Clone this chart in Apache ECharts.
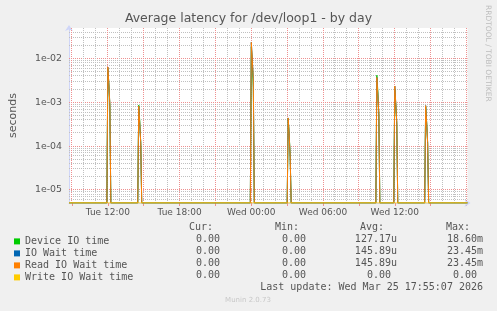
<!DOCTYPE html>
<html><head><meta charset="utf-8">
<script src="https://cdn.jsdelivr.net/npm/echarts@6/dist/echarts.min.js"></script>
<style>html,body{margin:0;padding:0;background:#f0f0f0;}#c{width:497px;height:311px;}</style>
</head><body><div id="c"></div>
<script>
// ---- data ----
const titleText = 'Average latency for /dev/loop1 - by day';
const seriesNames = ['Device IO time', 'IO Wait time', 'Read IO Wait time', 'Write IO Wait time'];
const seriesColors = ['#00cc00', '#0066b3', '#ff8000', '#ffcc00'];
const timeStart = '2026-03-24T08:45:00';
const timeEnd = '2026-03-25T18:05:00';
const sampleStepMin = 5;
// times of the latency spikes (peak sample)
const spikeTimes = ['2026-03-24T12:00:00', '2026-03-24T14:35:00', '2026-03-25T00:00:00', '2026-03-25T03:05:00',
                    '2026-03-25T10:30:00', '2026-03-25T12:00:00', '2026-03-25T14:35:00'];
// Device IO time (seconds): peak sample, next sample, following sample
const devicePeak = [5.9e-3, 8.6e-4, 1.86e-2, 4.3e-4, 4.15e-3, 2.0e-3, 8.0e-4];
const deviceNext = [2.6e-3, 3.8e-4, 8.0e-3, 1.9e-4, 1.8e-3, 9.0e-4, 3.5e-4];
const deviceTail = [8.0e-4, 1.2e-4, 2.2e-3, 6.0e-5, 5.0e-4, 3.0e-4, 1.1e-4];
// IO Wait time
const ioWaitPeak = [6.4e-3, 8.2e-4, 2.345e-2, 4.4e-4, 3.7e-3, 2.36e-3, 8.4e-4];
const ioWaitNext = [2.6e-3, 3.3e-4, 9.4e-3, 1.8e-4, 1.5e-3, 9.4e-4, 3.4e-4];
const ioWaitTail = [9.0e-4, 1.2e-4, 3.5e-3, 6.0e-5, 5.5e-4, 3.5e-4, 1.2e-4];
// Read IO Wait time
const readPeak = [6.4e-3, 8.2e-4, 2.345e-2, 4.4e-4, 3.7e-3, 2.36e-3, 8.4e-4];
const readNext = [2.6e-3, 3.3e-4, 9.4e-3, 1.8e-4, 1.5e-3, 9.4e-4, 3.4e-4];
const readTail = [9.0e-4, 1.2e-4, 3.5e-3, 6.0e-5, 5.5e-4, 3.5e-4, 1.2e-4];
// Write IO Wait time
const writePeak = [0, 0, 0, 0, 0, 0, 0];
const writeNext = [0, 0, 0, 0, 0, 0, 0];
const writeTail = [0, 0, 0, 0, 0, 0, 0];

const xLabelTimes = ['2026-03-24T12:00:00', '2026-03-24T18:00:00', '2026-03-25T00:00:00', '2026-03-25T06:00:00', '2026-03-25T12:00:00'];
const weekdayNames = ['Sun', 'Mon', 'Tue', 'Wed', 'Thu', 'Fri', 'Sat'];
const yMin = 5e-6;
const yMax = 0.05;
const yAxisName = 'seconds';

const statHeaders = ['Cur:', 'Min:', 'Avg:', 'Max:'];
const curValues = ['0.00 ', '0.00 ', '0.00 ', '0.00 '];
const minValues = ['0.00 ', '0.00 ', '0.00 ', '0.00 '];
const avgValues = ['127.17u', '145.89u', '145.89u', '0.00 '];
const maxValues = ['18.60m', '23.45m', '23.45m', '0.00 '];
const lastUpdateText = 'Last update: Wed Mar 25 17:55:07 2026';
const versionText = 'Munin 2.0.73';
const sideText = 'RRDTOOL / TOBI OETIKER';

// ---- build ----
const T = s => new Date(s).getTime();
const STEP = sampleStepMin * 60000;
const HOUR = 3600000;
function buildSeries(peak, next, tail) {
  const pts = [[T(timeStart), 0]];
  spikeTimes.forEach((s, i) => {
    const tp = T(s);
    pts.push([tp - STEP, 0], [tp, peak[i]], [tp + STEP, next[i]], [tp + 2 * STEP, tail[i]], [tp + 3 * STEP, 0]);
  });
  pts.push([T(timeEnd), 0]);
  // zero cannot be shown on a log scale: it sits on the bottom of the axis
  return pts.map(p => [p[0], p[1] > 0 ? p[1] : yMin]);
}
const seriesData = [
  buildSeries(devicePeak, deviceNext, deviceTail),
  buildSeries(ioWaitPeak, ioWaitNext, ioWaitTail),
  buildSeries(readPeak, readNext, readTail),
  buildSeries(writePeak, writeNext, writeTail)
];

// grid lines: hourly minor / 3-hourly major; log decades major, 2..9 minor
const MINOR = '#c0c0c0', MAJOR = '#ee9090';
const tStart = T(timeStart), tEnd = T(timeEnd);
const vGrid = [];   // [time, yMin, isMajor]
const tick3h = [];
for (let t = Math.ceil(tStart / HOUR) * HOUR; t < tEnd; t += HOUR) {
  const major = new Date(t).getHours() % 3 === 0 ? 1 : 0;
  if (major) tick3h.push(t);
  vGrid.push([t, yMin, major]);
}
const hGrid = [];   // [tStart, value, isMajor]
for (let e = -6; e <= -1; e++) {
  for (let m = 1; m <= 9; m++) {
    const v = m * Math.pow(10, e);
    if (v <= yMin * 1.0005 || v >= yMax * 0.9995) continue;
    hGrid.push([tStart, v, m === 1 ? 1 : 0]);
  }
}
const crisp = v => Math.round(v - 0.5) + 0.5;

const FONT = '#555555';
const graphics = [];
const colEnds = [226, 312, 397, 483];
const headEnds = [213, 299, 384, 470];
statHeaders.forEach((h, i) => graphics.push({ type: 'text', x: headEnds[i], y: 227.5,
  style: { text: h, fill: FONT, font: '10px "DejaVu Sans Mono"', align: 'right', verticalAlign: 'middle' } }));
[curValues, minValues, avgValues, maxValues].forEach((col, c) => {
  col.forEach((v, r) => graphics.push({ type: 'text', x: colEnds[c], y: 239.7 + r * 12,
    style: { text: v, fill: FONT, font: '10px "DejaVu Sans Mono"', align: 'right', verticalAlign: 'middle' } }));
});
graphics.push({ type: 'text', x: 483, y: 287.7,
  style: { text: lastUpdateText, fill: FONT, font: '10px "DejaVu Sans Mono"', align: 'right', verticalAlign: 'middle' } });
graphics.push({ type: 'text', x: 248, y: 300.3,
  style: { text: versionText, fill: '#c8c8c8', font: '7px "DejaVu Sans"', align: 'center', verticalAlign: 'middle' } });
graphics.push({ type: 'text', x: 488, y: 53.3, rotation: -Math.PI / 2,
  style: { text: sideText, fill: '#bdbdbd', font: '7.5px "DejaVu Sans"', align: 'center', verticalAlign: 'middle' } });

const fmtTime = v => { const d = new Date(v); return weekdayNames[d.getDay()] + ' ' + String(d.getHours()).padStart(2, '0') + ':' + String(d.getMinutes()).padStart(2, '0'); };

const gridSeries = (name, data, vertical) => ({
  type: 'custom', name: name, data: data, silent: true, z: 1, clip: false,
  encode: { x: 0, y: 1 },
  renderItem: (params, api) => {
    const cs = params.coordSys;
    const p = api.coord([api.value(0), api.value(1)]);
    const stroke = api.value(2) ? MAJOR : MINOR;
    let shape;
    if (vertical) { const x = crisp(p[0]); shape = { x1: x, y1: cs.y + cs.height, x2: x, y2: cs.y }; }
    else { const y = crisp(p[1]); shape = { x1: cs.x, y1: y, x2: cs.x + cs.width, y2: y }; }
    return { type: 'line', shape: shape, silent: true, style: { stroke: stroke, lineWidth: 1, lineDash: [1, 1], fill: null } };
  }
});

const chart = echarts.init(document.getElementById('c'), null, { renderer: 'canvas' });
chart.setOption({
  animation: false,
  backgroundColor: '#f0f0f0',
  title: { text: titleText, left: 'center', top: 12, padding: 0,
    textStyle: { fontFamily: 'DejaVu Sans', fontSize: 12.5, fontWeight: 'normal', color: FONT } },
  grid: { left: 67.5, top: 28, width: 400, height: 175, show: true, backgroundColor: '#ffffff', borderWidth: 0 },
  legend: { orient: 'vertical', left: 14, top: 235.4, padding: 0, itemWidth: 6, itemHeight: 6, itemGap: 0, icon: 'rect',
    selectedMode: false, data: seriesNames,
    textStyle: { fontFamily: 'DejaVu Sans Mono', fontSize: 10, color: FONT, lineHeight: 12 } },
  xAxis: {
    type: 'value', min: tStart, max: tEnd, scale: true,
    axisLine: { show: true, lineStyle: { color: '#cfd6f8', width: 1 }, symbol: ['none', 'arrow'], symbolSize: [6, 6], symbolOffset: [0, 3] },
    axisTick: { show: true, customValues: tick3h, length: 3, lineStyle: { color: MAJOR } },
    axisLabel: { customValues: xLabelTimes.map(T), color: FONT, fontFamily: 'DejaVu Sans', fontSize: 9, margin: 5,
      hideOverlap: false, formatter: fmtTime },
    splitLine: { show: false }
  },
  yAxis: {
    type: 'log', logBase: 10, min: yMin, max: yMax,
    name: yAxisName, nameLocation: 'middle', nameGap: 50, nameRotate: 90,
    nameTextStyle: { fontFamily: 'DejaVu Sans', fontSize: 11, color: FONT },
    axisLine: { show: true, lineStyle: { color: '#cfd6f8', width: 1 }, symbol: ['none', 'arrow'], symbolSize: [6, 6], symbolOffset: [0, 3] },
    axisTick: { show: false },
    splitLine: { show: false },
    axisLabel: { color: FONT, fontFamily: 'DejaVu Sans', fontSize: 9.4, margin: 7,
      formatter: v => { const e = Math.log10(v); const r = Math.round(e); if (Math.abs(e - r) > 1e-6) return '';
        return '1e' + (r < 0 ? '-' : '+') + String(Math.abs(r)).padStart(2, '0'); } }
  },
  graphic: graphics,
  series: [gridSeries('_hgrid', hGrid, false), gridSeries('_vgrid', vGrid, true)]
    .concat(seriesNames.map((n, i) => ({
      type: 'line', name: n, data: seriesData[i], color: seriesColors[i], showSymbol: false, symbol: 'none',
      lineStyle: { width: 1, color: seriesColors[i] }, itemStyle: { color: seriesColors[i] }, z: 2 + i * 0.01, silent: true
    })))
});
</script></body></html>
